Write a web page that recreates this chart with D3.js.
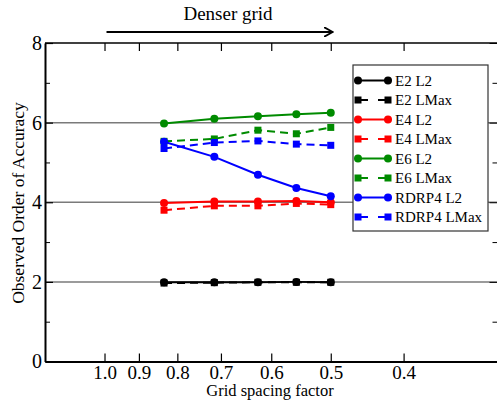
<!DOCTYPE html>
<html><head><meta charset="utf-8">
<script src="https://cdn.jsdelivr.net/npm/d3@7"></script>
<style>body{margin:0;background:#fff}svg{display:block}text{font-family:"Liberation Serif","DejaVu Serif",serif}</style>
</head><body>
<script>
const gridFactors = [0.8333, 0.7143, 0.625, 0.5556, 0.5];
const xTicks = [1.0, 0.9, 0.8, 0.7, 0.6, 0.5, 0.4];
const yTicks = [0, 2, 4, 6, 8];
const yMinorTicks = [1, 3, 5, 7];
const gridLines = [2, 4, 6];
const seriesNames = ["E2 L2", "E2 LMax", "E4 L2", "E4 LMax", "E6 L2", "E6 LMax", "RDRP4 L2", "RDRP4 LMax"];
const seriesColors = ["#000000", "#000000", "#ff0000", "#ff0000", "#008b00", "#008b00", "#0000ff", "#0000ff"];
const e2L2 = [1.99, 1.99, 1.99, 2.00, 1.99];
const e2LMax = [1.97, 1.98, 1.99, 1.99, 1.99];
const e4L2 = [3.98, 4.02, 4.02, 4.03, 4.00];
const e4LMax = [3.80, 3.91, 3.91, 3.97, 3.94];
const e6L2 = [5.98, 6.10, 6.16, 6.21, 6.25];
const e6LMax = [5.53, 5.59, 5.81, 5.72, 5.88];
const rdrp4L2 = [5.52, 5.14, 4.69, 4.36, 4.15];
const rdrp4LMax = [5.35, 5.50, 5.54, 5.46, 5.43];
const seriesValues = [e2L2, e2LMax, e4L2, e4LMax, e6L2, e6LMax, rdrp4L2, rdrp4LMax];

const W = 497, H = 400;
const L = 45, T = 43, R = 497.5, B = 361.5;
const svg = d3.select("body").append("svg").attr("width", W).attr("height", H);
const x = d3.scaleLog().domain([1.2, 0.3]).range([L, R]);
const y = d3.scaleLinear().domain([0, 8]).range([B, T]);

// grid lines
svg.append("g").selectAll("line").data(gridLines).join("line")
  .attr("x1", L).attr("x2", W).attr("y1", d => y(d)).attr("y2", d => y(d))
  .attr("stroke", "#7a7a7a").attr("stroke-width", 1.5);

// top border
svg.append("line").attr("x1", L).attr("x2", W).attr("y1", T).attr("y2", T).attr("stroke", "#000").attr("stroke-width", 1.5);

// bottom axis (ticks inward)
const xb = svg.append("g").attr("transform", `translate(0,${B})`)
  .call(d3.axisBottom(x).tickValues(xTicks).tickFormat(d3.format(".1f")).tickSizeInner(-8).tickSizeOuter(0).tickPadding(4));
xb.select(".domain").attr("stroke-width", 2);
xb.selectAll(".tick line").attr("stroke-width", 1.2);
xb.selectAll("text").attr("font-size", 19).attr("fill", "#000");

// top ticks inward
const xt = svg.append("g").attr("transform", `translate(0,${T})`)
  .call(d3.axisTop(x).tickValues(xTicks).tickFormat("").tickSizeInner(-8).tickSizeOuter(0));
xt.select(".domain").remove();
xt.selectAll(".tick line").attr("stroke-width", 1.2);

// left axis
const yl = svg.append("g").attr("transform", `translate(${L},0)`)
  .call(d3.axisLeft(y).tickValues(yTicks).tickFormat(d3.format("d")).tickSizeInner(-8).tickSizeOuter(0).tickPadding(3));
yl.select(".domain").attr("stroke-width", 2);
yl.selectAll(".tick line").attr("stroke-width", 1.2);
yl.selectAll("text").attr("font-size", 20).attr("fill", "#000");
const ylm = svg.append("g").attr("transform", `translate(${L},0)`)
  .call(d3.axisLeft(y).tickValues(yMinorTicks).tickFormat("").tickSizeInner(-5).tickSizeOuter(0));
ylm.select(".domain").remove();

// right ticks inward
const yr = svg.append("g").attr("transform", `translate(${R},0)`)
  .call(d3.axisRight(y).tickValues(yTicks).tickFormat("").tickSizeInner(-8).tickSizeOuter(0));
yr.select(".domain").remove();
const yrm = svg.append("g").attr("transform", `translate(${R},0)`)
  .call(d3.axisRight(y).tickValues(yMinorTicks).tickFormat("").tickSizeInner(-5).tickSizeOuter(0));
yrm.select(".domain").remove();

// axis titles
svg.append("text").attr("x", 270).attr("y", 396).attr("text-anchor", "middle").attr("font-size", 16.5).text("Grid spacing factor");
svg.append("text").attr("transform", `translate(24,203) rotate(-90)`).attr("text-anchor", "middle").attr("font-size", 17.5).text("Observed Order of Accuracy");

// Denser grid arrow
svg.append("defs").append("marker").attr("id", "arr").attr("viewBox", "0 0 10 10").attr("refX", 9).attr("refY", 5)
  .attr("markerWidth", 10).attr("markerHeight", 10).attr("markerUnits", "userSpaceOnUse").attr("orient", "auto")
  .append("path").attr("d", "M0,0 L9,5 L0,10").attr("fill", "none").attr("stroke", "#000").attr("stroke-width", 1.8);
svg.append("line").attr("x1", x(1.0) + 2).attr("x2", x(0.5) + 2).attr("y1", 32).attr("y2", 32)
  .attr("stroke", "#000").attr("stroke-width", 2).attr("marker-end", "url(#arr)");
svg.append("text").attr("x", 228).attr("y", 20).attr("text-anchor", "middle").attr("font-size", 19).text("Denser grid");

// series
const line = d3.line().x((d, i) => x(gridFactors[i])).y(d => y(d));
seriesValues.forEach((vals, s) => {
  const dashed = s % 2 === 1;
  const g = svg.append("g");
  g.append("path").attr("d", line(vals)).attr("fill", "none").attr("stroke", seriesColors[s]).attr("stroke-width", 2)
    .attr("stroke-dasharray", dashed ? "8,5" : null);
  if (dashed) {
    g.selectAll("rect").data(vals).join("rect")
      .attr("x", (d, i) => x(gridFactors[i]) - 3.5).attr("y", d => y(d) - 3.5).attr("width", 7).attr("height", 7)
      .attr("fill", seriesColors[s]);
  } else {
    g.selectAll("circle").data(vals).join("circle")
      .attr("cx", (d, i) => x(gridFactors[i])).attr("cy", d => y(d)).attr("r", 4).attr("fill", seriesColors[s]);
  }
});

// legend
const lg = svg.append("g");
lg.append("rect").attr("x", 353).attr("y", 65).attr("width", 135).attr("height", 166).attr("fill", "#fff").attr("stroke", "#333").attr("stroke-width", 1.2);
seriesNames.forEach((name, s) => {
  const yy = 80.5 + s * 19.5;
  const dashed = s % 2 === 1;
  lg.append("line").attr("x1", 358).attr("x2", 388).attr("y1", yy).attr("y2", yy).attr("stroke", seriesColors[s]).attr("stroke-width", 2)
    .attr("stroke-dasharray", dashed ? "10,10" : null);
  if (dashed) {
    [358, 388].forEach(px => lg.append("rect").attr("x", px - 3.5).attr("y", yy - 3.5).attr("width", 7).attr("height", 7).attr("fill", seriesColors[s]));
  } else {
    [358, 388].forEach(px => lg.append("circle").attr("cx", px).attr("cy", yy).attr("r", 4).attr("fill", seriesColors[s]));
  }
  lg.append("text").attr("x", 395).attr("y", yy + 5).attr("font-size", 15).text(name);
});
</script>
</body></html>
